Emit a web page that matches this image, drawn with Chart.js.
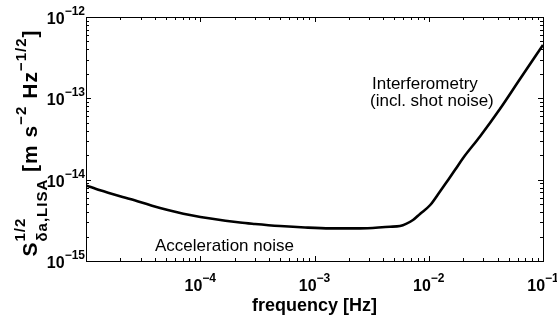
<!DOCTYPE html>
<html>
<head>
<meta charset="utf-8">
<script src="https://cdn.jsdelivr.net/npm/chart.js@4.4.1/dist/chart.umd.min.js"></script>
<style>
html,body{margin:0;padding:0;background:#fff;}
#wrap{width:557px;height:316px;position:relative;}
</style>
</head>
<body>
<div id="wrap"><canvas id="c" width="557" height="316"></canvas></div>
<script>
// Data
const frequencyHz = [1.0e-5, 1.33e-5, 2.43e-5, 4.45e-5, 8.13e-5, 2.23e-4, 3.01e-4, 4.99e-4, 8.26e-4, 1.37e-3, 2.50e-3, 4.58e-3, 5.6e-3, 7.28e-3, 8.38e-3, 1.03e-2, 1.25e-2, 1.44e-2, 1.70e-2, 2.0e-2, 2.81e-2, 4.21e-2, 6.29e-2, 1.0e-1];
const noiseASD   = [8.5e-15, 7.4e-15, 5.78e-15, 4.49e-15, 3.68e-15, 2.97e-15, 2.85e-15, 2.69e-15, 2.58e-15, 2.52e-15, 2.52e-15, 2.64e-15, 2.69e-15, 3.19e-15, 3.79e-15, 4.88e-15, 7.11e-15, 9.44e-15, 1.32e-14, 1.85e-14, 3.40e-14, 7.45e-14, 1.73e-13, 4.53e-13];
const xTickExps = [-4, -3, -2, -1];
const yTickExps = [-15, -14, -13, -12];
const xLabel = 'frequency [Hz]';
const annotations = [
  {text: 'Interferometry', x: 372, y: 89},
  {text: '(incl. shot noise)', x: 370, y: 106},
  {text: 'Acceleration noise', x: 155, y: 251}
];

const points = frequencyHz.map((f, i) => ({x: f, y: noiseASD[i]}));
const FF = '"Liberation Sans", Arial, sans-serif';

function drawPow(ctx, exp, x, baseY, align) {
  const base = '10', sup = '\u2212' + Math.abs(exp);
  ctx.font = 'bold 16px ' + FF;
  const wb = ctx.measureText(base).width;
  ctx.font = 'bold 12px ' + FF;
  const ws = ctx.measureText(sup).width;
  const total = wb + ws;
  let x0 = align === 'center' ? x - total / 2 : x - total;
  ctx.textAlign = 'left';
  ctx.textBaseline = 'alphabetic';
  ctx.font = 'bold 16px ' + FF;
  ctx.fillText(base, x0, baseY);
  ctx.font = 'bold 12px ' + FF;
  ctx.fillText(sup, x0 + wb, baseY - 9);
}

const LS = 1; // extra letter spacing for the y label
function segWidth(ctx, font, txt) {
  ctx.font = font;
  return ctx.measureText(txt).width + LS * txt.length;
}
function drawSpaced(ctx, font, txt, x, y) {
  ctx.font = font;
  for (const ch of txt) {
    ctx.fillText(ch, x, y);
    x += ctx.measureText(ch).width + LS;
  }
}

const framePlugin = {
  id: 'frame',
  afterDatasetsDraw(chart) {
    const ctx = chart.ctx, a = chart.chartArea;
    const xs = chart.scales.x, ys = chart.scales.y;
    ctx.save();
    ctx.strokeStyle = '#000';
    ctx.lineWidth = 1;
    ctx.strokeRect(Math.round(a.left) + 0.5, Math.round(a.top) + 0.5, Math.round(a.right - a.left), Math.round(a.bottom - a.top));
    ctx.beginPath();
    for (let e = -5; e <= -1; e++) {
      for (let m = 1; m <= 9; m++) {
        const v = m * Math.pow(10, e);
        if (v > 0.1 * 1.0001) break;
        const px = Math.round(xs.getPixelForValue(v)) + 0.5;
        const len = m === 1 ? 5 : 3;
        ctx.moveTo(px, a.bottom); ctx.lineTo(px, a.bottom - len);
        ctx.moveTo(px, a.top); ctx.lineTo(px, a.top + len);
      }
    }
    for (let e = -15; e <= -12; e++) {
      for (let m = 1; m <= 9; m++) {
        const v = m * Math.pow(10, e);
        if (v > 1e-12 * 1.0001) break;
        const py = Math.round(ys.getPixelForValue(v)) + 0.5;
        const len = m === 1 ? 5 : 3;
        ctx.moveTo(a.left, py); ctx.lineTo(a.left + len, py);
        ctx.moveTo(a.right, py); ctx.lineTo(a.right - len, py);
      }
    }
    ctx.stroke();
    ctx.fillStyle = '#000';
    xTickExps.forEach(e => {
      const px = xs.getPixelForValue(Math.pow(10, e));
      drawPow(ctx, e, px, 291, 'center');
    });
    yTickExps.forEach(e => {
      const py = ys.getPixelForValue(Math.pow(10, e));
      drawPow(ctx, e, 85, py + 7, 'right');
    });
    ctx.font = 'bold 18px ' + FF;
    ctx.textAlign = 'center';
    ctx.fillText(xLabel, (a.left + a.right) / 2, 311);
    // y label (rotated)
    ctx.save();
    ctx.translate(37, 143);
    ctx.rotate(-Math.PI / 2);
    ctx.textAlign = 'left';
    const big = 'bold 21px ' + FF;
    const small = 'bold 15px ' + FF;
    const wS = segWidth(ctx, big, 'S');
    const wSup1 = segWidth(ctx, small, '1/2');
    const wSub = segWidth(ctx, small, '\u03b4a,LISA');
    const wA = segWidth(ctx, big, ' [m s');
    const wM2 = segWidth(ctx, small, '\u22122');
    const wHz = segWidth(ctx, big, ' Hz');
    const wM12 = segWidth(ctx, small, '\u22121/2');
    const wB = segWidth(ctx, big, ']');
    const total = wS + Math.max(wSup1, wSub) + wA + wM2 + wHz + wM12 + wB;
    let x = -total / 2;
    drawSpaced(ctx, big, 'S', x, 0); x += wS;
    drawSpaced(ctx, small, '1/2', x, -12);
    drawSpaced(ctx, small, '\u03b4a,LISA', x, 10); x += Math.max(wSup1, wSub);
    drawSpaced(ctx, big, ' [m s', x, 0); x += wA;
    drawSpaced(ctx, small, '\u22122', x, -11); x += wM2;
    drawSpaced(ctx, big, ' Hz', x, 0); x += wHz;
    drawSpaced(ctx, small, '\u22121/2', x, -11); x += wM12;
    drawSpaced(ctx, big, ']', x, 0);
    ctx.restore();
    ctx.font = '17px ' + FF;
    ctx.textAlign = 'left';
    annotations.forEach(t => ctx.fillText(t.text, t.x, t.y));
    ctx.restore();
  }
};

new Chart(document.getElementById('c'), {
  type: 'line',
  data: {
    datasets: [{
      data: points,
      borderColor: '#000',
      borderWidth: 2.6,
      pointRadius: 0,
      fill: false,
      cubicInterpolationMode: 'monotone'
    }]
  },
  options: {
    responsive: false,
    animation: false,
    events: [],
    layout: {padding: {left: 0, top: 17, right: 14, bottom: 0}},
    plugins: {legend: {display: false}, tooltip: {enabled: false}},
    scales: {
      x: {
        type: 'logarithmic', min: 1e-5, max: 1e-1,
        grid: {display: false}, border: {display: false},
        ticks: {display: false},
        afterFit(s) { s.height = 55; }
      },
      y: {
        type: 'logarithmic', min: 1e-15, max: 1e-12,
        grid: {display: false}, border: {display: false},
        ticks: {display: false},
        afterFit(s) { s.width = 86; }
      }
    }
  },
  plugins: [framePlugin]
});
</script>
</body>
</html>
